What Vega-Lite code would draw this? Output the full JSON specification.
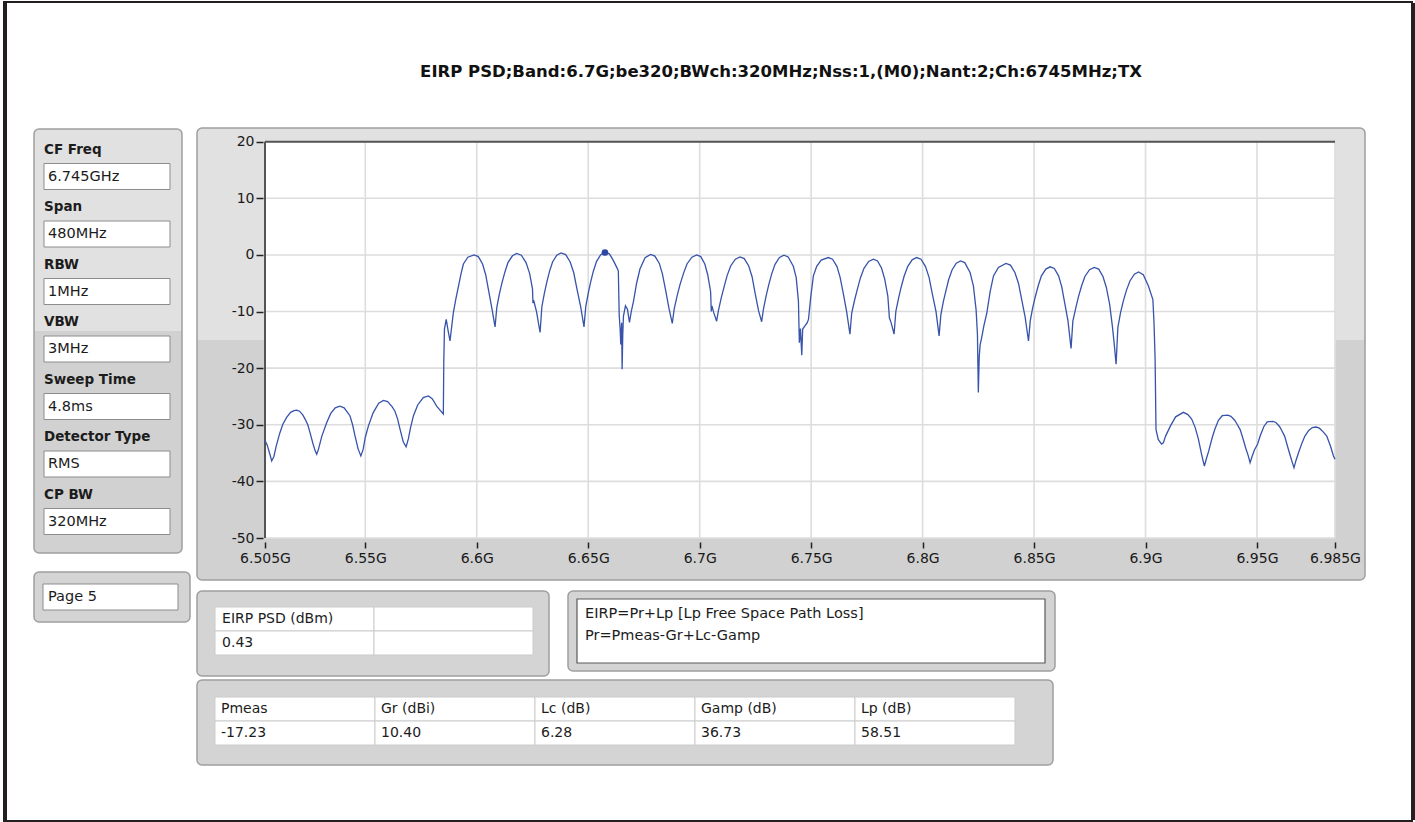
{
  "$schema": "https://vega.github.io/schema/vega-lite/v6.json",
  "background": "white",
  "padding": {"left": 3, "top": 1, "right": 0, "bottom": 0},
  "config": {"font": "DejaVu Sans", "view": {"stroke": null}},
  "datasets": {
    "trace": [
      {"f":6.5050,"p":-32.8},{"f":6.5060,"p":-33.6},{"f":6.5072,"p":-35.2},{"f":6.5080,"p":-36.4},{"f":6.5090,"p":-35.6},{"f":6.5100,"p":-33.8},{"f":6.5117,"p":-31.4},{"f":6.5130,"p":-29.9},{"f":6.5147,"p":-28.7},{"f":6.5165,"p":-27.8},{"f":6.5180,"p":-27.5},{"f":6.5192,"p":-27.4},{"f":6.5205,"p":-27.6},{"f":6.5220,"p":-28.3},{"f":6.5230,"p":-29.0},{"f":6.5242,"p":-30.0},{"f":6.5252,"p":-31.4},{"f":6.5265,"p":-33.3},{"f":6.5275,"p":-34.6},{"f":6.5282,"p":-35.2},{"f":6.5290,"p":-34.3},{"f":6.5305,"p":-32.0},{"f":6.5327,"p":-29.6},{"f":6.5345,"p":-28.0},{"f":6.5365,"p":-27.0},{"f":6.5386,"p":-26.7},{"f":6.5405,"p":-27.0},{"f":6.5420,"p":-27.8},{"f":6.5431,"p":-28.4},{"f":6.5443,"p":-30.0},{"f":6.5454,"p":-32.0},{"f":6.5468,"p":-34.3},{"f":6.5480,"p":-35.5},{"f":6.5490,"p":-34.4},{"f":6.5500,"p":-32.2},{"f":6.5514,"p":-30.2},{"f":6.5535,"p":-27.9},{"f":6.5560,"p":-26.2},{"f":6.5581,"p":-25.7},{"f":6.5600,"p":-25.9},{"f":6.5620,"p":-26.8},{"f":6.5633,"p":-27.6},{"f":6.5645,"p":-29.0},{"f":6.5656,"p":-30.8},{"f":6.5670,"p":-33.0},{"f":6.5683,"p":-33.9},{"f":6.5693,"p":-32.5},{"f":6.5703,"p":-30.5},{"f":6.5716,"p":-28.4},{"f":6.5735,"p":-26.5},{"f":6.5760,"p":-25.2},{"f":6.5783,"p":-24.9},{"f":6.5800,"p":-25.4},{"f":6.5820,"p":-26.7},{"f":6.5835,"p":-27.4},{"f":6.5850,"p":-28.1},
      {"f":6.5852,"p":-19.0},{"f":6.5855,"p":-13.1},{"f":6.5863,"p":-11.4},{"f":6.5872,"p":-13.5},{"f":6.5880,"p":-15.2},{"f":6.5888,"p":-12.5},{"f":6.5895,"p":-10.2},{"f":6.5906,"p":-7.8},{"f":6.5918,"p":-5.5},{"f":6.5930,"p":-3.2},{"f":6.5940,"p":-1.6},{"f":6.5960,"p":-0.4},{"f":6.5988,"p":0.0},
      {"f":6.6007,"p":-0.3},{"f":6.6026,"p":-1.6},{"f":6.6040,"p":-3.5},{"f":6.6054,"p":-6.5},{"f":6.6068,"p":-9.5},{"f":6.6082,"p":-12.7},{"f":6.6090,"p":-9.25},{"f":6.6101,"p":-6.95},{"f":6.6113,"p":-4.95},{"f":6.6126,"p":-3.05},{"f":6.6140,"p":-1.35},{"f":6.6160,"p":-0.15},{"f":6.6179,"p":0.25},
      {"f":6.6200,"p":-0.05},{"f":6.6221,"p":-1.35},{"f":6.6237,"p":-3.25},{"f":6.6250,"p":-6.0},{"f":6.6252,"p":-8.5},{"f":6.6255,"p":-8.0},{"f":6.6268,"p":-10.0},{"f":6.6284,"p":-13.7},{"f":6.6292,"p":-9.15},{"f":6.6303,"p":-6.85},{"f":6.6314,"p":-4.85},{"f":6.6326,"p":-2.95},{"f":6.6340,"p":-1.25},{"f":6.6359,"p":-0.05},{"f":6.6378,"p":0.35},
      {"f":6.6399,"p":0.05},{"f":6.6419,"p":-1.25},{"f":6.6435,"p":-3.15},{"f":6.6450,"p":-6.15},{"f":6.6466,"p":-9.15},{"f":6.6481,"p":-12.7},{"f":6.6489,"p":-9.07},{"f":6.6500,"p":-6.77},{"f":6.6511,"p":-4.77},{"f":6.6523,"p":-2.87},{"f":6.6537,"p":-1.17},{"f":6.6556,"p":0.03},{"f":6.6575,"p":0.43},
      {"f":6.6595,"p":0.2},{"f":6.6613,"p":-1.0},{"f":6.6628,"p":-2.2},{"f":6.6635,"p":-2.8},{"f":6.6639,"p":-10.7},{"f":6.6643,"p":-13.0},{"f":6.6646,"p":-15.8},{"f":6.6650,"p":-12.0},{"f":6.6652,"p":-20.2},{"f":6.6655,"p":-14.0},{"f":6.6658,"p":-10.8},{"f":6.6667,"p":-9.0},{"f":6.6676,"p":-9.6},{"f":6.6685,"p":-11.9},{"f":6.6693,"p":-10.0},{"f":6.6703,"p":-8.2},{"f":6.6717,"p":-5.0},{"f":6.6732,"p":-2.5},{"f":6.6755,"p":-0.5},{"f":6.6780,"p":0.1},
      {"f":6.6799,"p":-0.2},{"f":6.6819,"p":-1.5},{"f":6.6833,"p":-3.4},{"f":6.6848,"p":-6.4},{"f":6.6862,"p":-9.4},{"f":6.6877,"p":-12.1},{"f":6.6886,"p":-9.5},{"f":6.6899,"p":-7.2},{"f":6.6912,"p":-5.2},{"f":6.6927,"p":-3.3},{"f":6.6943,"p":-1.6},{"f":6.6965,"p":-0.4},{"f":6.6987,"p":0.0},
      {"f":6.7005,"p":-0.3},{"f":6.7023,"p":-1.6},{"f":6.7036,"p":-3.5},{"f":6.7049,"p":-6.5},{"f":6.7052,"p":-10.0},{"f":6.7055,"p":-9.0},{"f":6.7063,"p":-10.2},{"f":6.7076,"p":-11.7},{"f":6.7084,"p":-9.85},{"f":6.7097,"p":-7.55},{"f":6.7110,"p":-5.55},{"f":6.7123,"p":-3.65},{"f":6.7139,"p":-1.95},{"f":6.7160,"p":-0.75},{"f":6.7181,"p":-0.35},
      {"f":6.7200,"p":-0.65},{"f":6.7220,"p":-1.95},{"f":6.7235,"p":-3.85},{"f":6.7249,"p":-6.85},{"f":6.7264,"p":-9.85},{"f":6.7278,"p":-11.8},{"f":6.7286,"p":-9.55},{"f":6.7298,"p":-7.25},{"f":6.7310,"p":-5.25},{"f":6.7323,"p":-3.35},{"f":6.7338,"p":-1.65},{"f":6.7358,"p":-0.45},{"f":6.7378,"p":-0.05},
      {"f":6.7397,"p":-0.35},{"f":6.7420,"p":-2.0},{"f":6.7433,"p":-4.0},{"f":6.7443,"p":-8.2},{"f":6.7447,"p":-15.5},{"f":6.7452,"p":-13.0},{"f":6.7458,"p":-17.7},{"f":6.7462,"p":-13.1},{"f":6.7473,"p":-12.5},{"f":6.7482,"p":-12.0},{"f":6.7488,"p":-11.4},{"f":6.7498,"p":-7.5},{"f":6.7510,"p":-3.7},{"f":6.7525,"p":-2.0},{"f":6.7545,"p":-0.9},{"f":6.7577,"p":-0.46},
      {"f":6.7596,"p":-0.76},{"f":6.7616,"p":-2.06},{"f":6.7630,"p":-3.96},{"f":6.7645,"p":-6.96},{"f":6.7659,"p":-9.96},{"f":6.7674,"p":-14.0},{"f":6.7682,"p":-10.26},{"f":6.7695,"p":-7.96},{"f":6.7708,"p":-5.96},{"f":6.7721,"p":-4.06},{"f":6.7737,"p":-2.36},{"f":6.7758,"p":-1.16},{"f":6.7779,"p":-0.76},
      {"f":6.7798,"p":-1.06},{"f":6.7816,"p":-2.36},{"f":6.7830,"p":-4.26},{"f":6.7844,"p":-7.26},{"f":6.7851,"p":-11.1},{"f":6.7859,"p":-12.0},{"f":6.7872,"p":-14.0},{"f":6.7880,"p":-9.96},{"f":6.7892,"p":-7.66},{"f":6.7904,"p":-5.66},{"f":6.7917,"p":-3.76},{"f":6.7933,"p":-2.06},{"f":6.7953,"p":-0.86},{"f":6.7973,"p":-0.46},
      {"f":6.7993,"p":-0.76},{"f":6.8013,"p":-2.06},{"f":6.8029,"p":-3.96},{"f":6.8044,"p":-6.96},{"f":6.8060,"p":-9.96},{"f":6.8074,"p":-14.3},{"f":6.8082,"p":-10.55},{"f":6.8093,"p":-8.25},{"f":6.8105,"p":-6.25},{"f":6.8117,"p":-4.35},{"f":6.8132,"p":-2.65},{"f":6.8151,"p":-1.45},{"f":6.8170,"p":-1.05},
      {"f":6.8189,"p":-1.35},{"f":6.8213,"p":-3.1},{"f":6.8228,"p":-5.5},{"f":6.8240,"p":-9.7},{"f":6.8246,"p":-14.0},{"f":6.8250,"p":-24.3},{"f":6.8254,"p":-18.0},{"f":6.8258,"p":-15.9},{"f":6.8265,"p":-14.6},{"f":6.8275,"p":-12.5},{"f":6.8288,"p":-10.3},{"f":6.8303,"p":-6.5},{"f":6.8318,"p":-3.7},{"f":6.8340,"p":-2.2},{"f":6.8374,"p":-1.5},
      {"f":6.8394,"p":-1.8},{"f":6.8414,"p":-3.1},{"f":6.8430,"p":-5.0},{"f":6.8445,"p":-8.0},{"f":6.8460,"p":-11.0},{"f":6.8475,"p":-15.2},{"f":6.8483,"p":-11.6},{"f":6.8494,"p":-9.3},{"f":6.8506,"p":-7.3},{"f":6.8519,"p":-5.4},{"f":6.8533,"p":-3.7},{"f":6.8553,"p":-2.5},{"f":6.8572,"p":-2.1},
      {"f":6.8591,"p":-2.4},{"f":6.8610,"p":-3.7},{"f":6.8624,"p":-5.6},{"f":6.8638,"p":-8.6},{"f":6.8652,"p":-11.6},{"f":6.8666,"p":-16.5},{"f":6.8674,"p":-11.7},{"f":6.8687,"p":-9.4},{"f":6.8699,"p":-7.4},{"f":6.8713,"p":-5.5},{"f":6.8728,"p":-3.8},{"f":6.8749,"p":-2.6},{"f":6.8770,"p":-2.2},
      {"f":6.8790,"p":-2.5},{"f":6.8809,"p":-3.8},{"f":6.8824,"p":-5.7},{"f":6.8839,"p":-8.7},{"f":6.8851,"p":-12.5},{"f":6.8859,"p":-15.5},{"f":6.8868,"p":-19.3},{"f":6.8872,"p":-16.0},{"f":6.8876,"p":-12.8},{"f":6.8888,"p":-10.2},{"f":6.8900,"p":-8.2},{"f":6.8914,"p":-6.3},{"f":6.8930,"p":-4.6},{"f":6.8950,"p":-3.4},{"f":6.8969,"p":-3.0},
      {"f":6.8990,"p":-3.5},{"f":6.9013,"p":-5.5},{"f":6.9033,"p":-7.9},{"f":6.9038,"p":-11.9},{"f":6.9043,"p":-18.4},{"f":6.9047,"p":-30.8},{"f":6.9057,"p":-32.6},{"f":6.9072,"p":-33.4},{"f":6.9080,"p":-33.2},{"f":6.9090,"p":-32.0},{"f":6.9112,"p":-30.2},{"f":6.9135,"p":-28.6},{"f":6.9170,"p":-27.8},{"f":6.9190,"p":-28.2},{"f":6.9207,"p":-29.0},{"f":6.9223,"p":-30.5},{"f":6.9237,"p":-32.5},{"f":6.9252,"p":-35.3},{"f":6.9264,"p":-37.3},
      {"f":6.9273,"p":-36.0},{"f":6.9283,"p":-34.7},{"f":6.9299,"p":-32.3},{"f":6.9311,"p":-30.8},{"f":6.9327,"p":-29.2},{"f":6.9344,"p":-28.4},{"f":6.9369,"p":-28.3},{"f":6.9383,"p":-28.5},{"f":6.9400,"p":-29.2},{"f":6.9411,"p":-29.9},{"f":6.9425,"p":-30.9},{"f":6.9436,"p":-32.3},{"f":6.9450,"p":-34.2},{"f":6.9461,"p":-35.5},{"f":6.9469,"p":-36.7},
      {"f":6.9478,"p":-35.6},{"f":6.9488,"p":-34.5},{"f":6.9503,"p":-33.4},{"f":6.9515,"p":-31.9},{"f":6.9531,"p":-30.3},{"f":6.9546,"p":-29.5},{"f":6.9571,"p":-29.4},{"f":6.9585,"p":-29.6},{"f":6.9601,"p":-30.3},{"f":6.9611,"p":-31.0},{"f":6.9624,"p":-32.0},{"f":6.9634,"p":-33.4},{"f":6.9648,"p":-35.3},{"f":6.9658,"p":-36.6},{"f":6.9666,"p":-37.6},
      {"f":6.9675,"p":-36.3},{"f":6.9686,"p":-35.0},{"f":6.9702,"p":-33.2},{"f":6.9715,"p":-32.0},{"f":6.9732,"p":-31.0},{"f":6.9748,"p":-30.5},{"f":6.9765,"p":-30.4},{"f":6.9780,"p":-30.6},{"f":6.9798,"p":-31.3},{"f":6.9813,"p":-32.0},{"f":6.9830,"p":-33.8},{"f":6.9843,"p":-35.5},{"f":6.9850,"p":-36.1}
    ],
    "marker": [{"f": 6.6575, "p": 0.43}],
    "xticks": [{"f":6.505},{"f":6.55},{"f":6.6},{"f":6.65},{"f":6.7},{"f":6.75},{"f":6.8},{"f":6.85},{"f":6.9},{"f":6.95},{"f":6.985}],
    "yticks": [{"p":20},{"p":10},{"p":0},{"p":-10},{"p":-20},{"p":-30},{"p":-40},{"p":-50}],
    "heading": [{"text": "EIRP PSD;Band:6.7G;be320;BWch:320MHz;Nss:1,(M0);Nant:2;Ch:6745MHz;TX"}],
    "params": [
      {"param": "CF Freq", "value": "6.745GHz"},
      {"param": "Span", "value": "480MHz"},
      {"param": "RBW", "value": "1MHz"},
      {"param": "VBW", "value": "3MHz"},
      {"param": "Sweep Time", "value": "4.8ms"},
      {"param": "Detector Type", "value": "RMS"},
      {"param": "CP BW", "value": "320MHz"}
    ],
    "eirp": [
      {"col": "EIRP PSD (dBm)", "row": "header", "text": "EIRP PSD (dBm)"},
      {"col": "spare", "row": "header", "text": ""},
      {"col": "EIRP PSD (dBm)", "row": "value", "text": "0.43"},
      {"col": "spare", "row": "value", "text": ""}
    ],
    "budget": [
      {"col": "Pmeas", "row": "header", "text": "Pmeas"},
      {"col": "Gr (dBi)", "row": "header", "text": "Gr (dBi)"},
      {"col": "Lc (dB)", "row": "header", "text": "Lc (dB)"},
      {"col": "Gamp (dB)", "row": "header", "text": "Gamp (dB)"},
      {"col": "Lp (dB)", "row": "header", "text": "Lp (dB)"},
      {"col": "Pmeas", "row": "value", "text": "-17.23"},
      {"col": "Gr (dBi)", "row": "value", "text": "10.40"},
      {"col": "Lc (dB)", "row": "value", "text": "6.28"},
      {"col": "Gamp (dB)", "row": "value", "text": "36.73"},
      {"col": "Lp (dB)", "row": "value", "text": "58.51"}
    ],
    "formula": [
      {"line": "1", "text": "EIRP=Pr+Lp [Lp Free Space Path Loss]"},
      {"line": "2", "text": "Pr=Pmeas-Gr+Lc-Gamp"}
    ]
  },
  "spacing": 0,
  "vconcat": [
    {"width": 1410, "height": 2, "data": {"values": []}, "mark": "point", "view": {"fill": "#231f20", "stroke": null}},
    {
      "hconcat": [
        {
          "hconcat": [
            {"width": 4, "height": 817, "data": {"values": []}, "mark": "point", "view": {"fill": "#231f20", "stroke": null}},
            {
              "hconcat": [
                {
                  "vconcat": [
                    {"width": 148, "height": 108, "data": {"values": []}, "mark": "point"},
                    {
                      "width": 148, "height": 424,
                      "view": {"fill": {"gradient": "linear", "x1": 0, "y1": 0, "x2": 0, "y2": 1, "stops": [{"offset": 0, "color": "#e1e1e1"}, {"offset": 0.476, "color": "#e1e1e1"}, {"offset": 0.477, "color": "#d1d1d1"}, {"offset": 1, "color": "#d1d1d1"}]}, "stroke": "#9f9f9f", "strokeWidth": 1.5, "cornerRadius": 5},
                      "data": {"name": "params"},
                      "encoding": {
                        "y": {"field": "param", "type": "nominal", "sort": null, "axis": null, "scale": {"paddingInner": 0, "paddingOuter": 0.187, "align": 0.442}},
                        "x": {"datum": "box", "type": "nominal", "axis": null, "scale": {"paddingInner": 0, "paddingOuter": 0.0873, "align": 0.4545}}
                      },
                      "layer": [
                        {"mark": {"type": "rect", "height": 26, "yOffset": 9.25, "fill": "white", "stroke": "#8c8c8c", "strokeWidth": 1}},
                        {"mark": {"type": "text", "align": "left", "baseline": "middle", "dy": -17.75, "fontWeight": "bold", "fontSize": 13.5, "color": "#1c1c1c"}, "encoding": {"text": {"field": "param"}, "x": {"datum": "box", "type": "nominal", "bandPosition": 0}}},
                        {"mark": {"type": "text", "align": "left", "baseline": "middle", "dy": 9.25, "dx": 4, "fontSize": 14.5, "color": "#1c1c1c"}, "encoding": {"text": {"field": "value"}, "x": {"datum": "box", "type": "nominal", "bandPosition": 0}}}
                      ]
                    },
                    {
                      "width": 156, "height": 50,
                      "view": {"fill": "#d4d4d4", "stroke": "#9f9f9f", "strokeWidth": 1.5, "cornerRadius": 5},
                      "data": {"values": [{"page": "Page 5"}]},
                      "encoding": {
                        "x": {"field": "page", "type": "nominal", "axis": null, "scale": {"paddingInner": 0, "paddingOuter": 0.0778, "align": 0.4286}},
                        "y": {"field": "page", "type": "nominal", "axis": null, "scale": {"paddingInner": 0, "paddingOuter": 0.4615, "align": 0.5}}
                      },
                      "layer": [
                        {"mark": {"type": "rect", "fill": "white", "stroke": "#8c8c8c", "strokeWidth": 1}},
                        {"mark": {"type": "text", "align": "left", "baseline": "middle", "dx": 5, "fontSize": 14.5, "color": "#1c1c1c"}, "encoding": {"text": {"field": "page"}, "x": {"field": "page", "type": "nominal", "bandPosition": 0}}}
                      ]
                    }
                  ],
                  "spacing": 17
                },
                {
                  "vconcat": [
                    {
                      "width": 1168, "height": 115,
                      "data": {"name": "heading"},
                      "mark": {"type": "text", "font": "DejaVu Sans", "fontSize": 16.5, "fontWeight": "bold", "color": "#111111", "align": "center", "baseline": "middle", "dy": 11.5},
                      "encoding": {"text": {"field": "text"}}
                    },
                    {
                      "width": 1168, "height": 452,
                      "view": {"fill": {"gradient": "linear", "x1": 0, "y1": 0, "x2": 0, "y2": 1, "stops": [{"offset": 0, "color": "#e1e1e1"}, {"offset": 0.469, "color": "#e1e1e1"}, {"offset": 0.47, "color": "#d1d1d1"}, {"offset": 1, "color": "#d1d1d1"}]}, "stroke": "#9f9f9f", "strokeWidth": 1.5, "cornerRadius": 5},
                      "layer": [
                        {
                          "data": {"values": [{}]},
                          "mark": {"type": "rect", "color": "white"},
                          "encoding": {
                            "x": {"datum": 6.505, "type": "quantitative",
                              "scale": {"domain": [6.505, 6.985], "range": [68, 1138], "nice": false, "zero": false},
                              "axis": {"values": [6.505, 6.55, 6.6, 6.65, 6.7, 6.75, 6.8, 6.85, 6.9, 6.95, 6.985], "labelExpr": "datum.value + 'G'", "offset": -38, "grid": false, "domain": false, "tickSize": 6, "tickWidth": 1.5, "tickColor": "#222222", "labelFontSize": 14, "labelColor": "#1a1a1a", "labelPadding": 3, "labelFlush": false, "labelOverlap": false, "title": null}},
                            "x2": {"datum": 6.985},
                            "y": {"datum": -50, "type": "quantitative",
                              "scale": {"domain": [-50, 20], "range": [410, 13.7], "nice": false, "zero": false},
                              "axis": {"values": [20, 10, 0, -10, -20, -30, -40, -50], "labelExpr": "'' + datum.value", "offset": -66, "grid": false, "domain": false, "tickSize": 7, "tickWidth": 1.5, "tickColor": "#222222", "labelFontSize": 14, "labelColor": "#1a1a1a", "labelPadding": 2, "labelFlush": false, "labelOverlap": false, "title": null}},
                            "y2": {"datum": 20}
                          }
                        },
                        {
                          "data": {"name": "xticks"},
                          "mark": {"type": "rule", "color": "#dddddd", "strokeWidth": 1.6},
                          "encoding": {"x": {"field": "f", "type": "quantitative"}, "y": {"datum": -50, "type": "quantitative"}, "y2": {"datum": 20}}
                        },
                        {
                          "data": {"name": "yticks"},
                          "mark": {"type": "rule", "color": "#dddddd", "strokeWidth": 1.6},
                          "encoding": {"y": {"field": "p", "type": "quantitative"}, "x": {"datum": 6.505, "type": "quantitative"}, "x2": {"datum": 6.985}}
                        },
                        {
                          "data": {"values": [{}]},
                          "mark": {"type": "rule", "color": "#555555", "strokeWidth": 2},
                          "encoding": {"x": {"datum": 6.505, "type": "quantitative"}, "x2": {"datum": 6.985}, "y": {"datum": 20, "type": "quantitative"}}
                        },
                        {
                          "data": {"values": [{}]},
                          "mark": {"type": "rule", "color": "#555555", "strokeWidth": 2},
                          "encoding": {"x": {"datum": 6.505, "type": "quantitative"}, "y": {"datum": -50, "type": "quantitative"}, "y2": {"datum": 20}}
                        },
                        {
                          "data": {"name": "trace"},
                          "mark": {"type": "line", "color": "#3753aa", "strokeWidth": 1.3},
                          "encoding": {"x": {"field": "f", "type": "quantitative"}, "y": {"field": "p", "type": "quantitative"}}
                        },
                        {
                          "data": {"name": "marker"},
                          "mark": {"type": "circle", "color": "#2c48a3", "size": 45, "opacity": 1},
                          "encoding": {"x": {"field": "f", "type": "quantitative"}, "y": {"field": "p", "type": "quantitative"}}
                        }
                      ]
                    },
                    {
                      "vconcat": [
                        {
                          "hconcat": [
                            {
                              "width": 352, "height": 85,
                              "view": {"fill": "#d4d4d4", "stroke": "#9f9f9f", "strokeWidth": 1.5, "cornerRadius": 5},
                              "data": {"name": "eirp"},
                              "encoding": {
                                "x": {"field": "col", "type": "nominal", "sort": null, "axis": null, "scale": {"paddingInner": 0, "paddingOuter": 0.107, "align": 0.53}},
                                "y": {"field": "row", "type": "nominal", "sort": null, "axis": null, "scale": {"paddingInner": 0, "paddingOuter": 0.771, "align": 0.432}}
                              },
                              "layer": [
                                {"mark": {"type": "rect", "fill": "white", "stroke": "#cccccc", "strokeWidth": 1}},
                                {"mark": {"type": "text", "align": "left", "baseline": "middle", "dx": 7, "fontSize": 14, "color": "#1c1c1c"}, "encoding": {"text": {"field": "text"}, "x": {"field": "col", "type": "nominal", "sort": null, "bandPosition": 0}}}
                              ]
                            },
                            {
                              "width": 487, "height": 80,
                              "view": {"fill": "#d4d4d4", "stroke": "#9f9f9f", "strokeWidth": 1.5, "cornerRadius": 5},
                              "layer": [
                                {
                                  "data": {"values": [{}]},
                                  "mark": {"type": "rect", "fill": "white", "stroke": "#5a5a5a", "strokeWidth": 1.2},
                                  "encoding": {
                                    "x": {"datum": "box", "type": "nominal", "axis": null, "scale": {"paddingInner": 0, "paddingOuter": 0.0203, "align": 0.4737}},
                                    "y": {"datum": "box", "type": "nominal", "axis": null, "scale": {"paddingInner": 0, "paddingOuter": 0.125, "align": 0.5}}
                                  }
                                },
                                {
                                  "data": {"name": "formula"},
                                  "mark": {"type": "text", "align": "left", "baseline": "middle", "dx": 8, "fontSize": 14.5, "color": "#1c1c1c"},
                                  "encoding": {
                                    "text": {"field": "text"},
                                    "x": {"datum": "box", "type": "nominal", "bandPosition": 0},
                                    "y": {"field": "line", "type": "nominal", "sort": null, "axis": null, "scale": {"type": "band", "paddingInner": 0, "paddingOuter": 0.818, "align": 0.333}}
                                  }
                                }
                              ],
                              "resolve": {"scale": {"y": "independent"}}
                            }
                          ],
                          "spacing": 17
                        },
                        {
                          "width": 856, "height": 85,
                          "view": {"fill": "#d4d4d4", "stroke": "#9f9f9f", "strokeWidth": 1.5, "cornerRadius": 5},
                          "data": {"name": "budget"},
                          "encoding": {
                            "x": {"field": "col", "type": "nominal", "sort": null, "axis": null, "scale": {"paddingInner": 0, "paddingOuter": 0.175, "align": 0.321}},
                            "y": {"field": "row", "type": "nominal", "sort": null, "axis": null, "scale": {"paddingInner": 0, "paddingOuter": 0.771, "align": 0.46}}
                          },
                          "layer": [
                            {"mark": {"type": "rect", "fill": "white", "stroke": "#cccccc", "strokeWidth": 1}},
                            {"mark": {"type": "text", "align": "left", "baseline": "middle", "dx": 6, "fontSize": 14, "color": "#1c1c1c"}, "encoding": {"text": {"field": "text"}, "x": {"field": "col", "type": "nominal", "sort": null, "bandPosition": 0}}}
                          ]
                        }
                      ],
                      "spacing": 2
                    }
                  ],
                  "spacing": 9
                }
              ],
              "spacing": 5
            }
          ],
          "spacing": 26
        },
        {"width": 4, "height": 817, "data": {"values": []}, "mark": "point", "view": {"fill": "#231f20", "stroke": null}}
      ],
      "spacing": 45
    },
    {"width": 1410, "height": 2, "data": {"values": []}, "mark": "point", "view": {"fill": "#231f20", "stroke": null}}
  ]
}
